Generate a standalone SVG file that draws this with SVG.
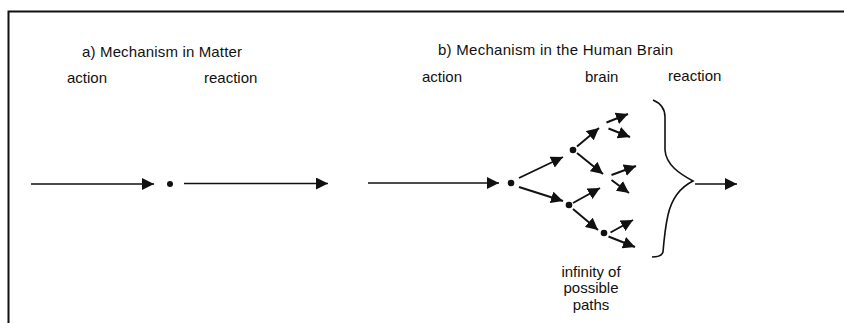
<svg xmlns="http://www.w3.org/2000/svg" width="844" height="323" viewBox="0 0 844 323">
<style>
text{font-family:"Liberation Sans",Arial,sans-serif;font-size:15px;fill:#111}
.ln{stroke:#111;stroke-width:1.6;fill:none}
.br{stroke:#111;stroke-width:1.9;fill:none}
.dot{fill:#111}
</style>
<defs>
<marker id="ah" markerUnits="userSpaceOnUse" markerWidth="13" markerHeight="12" refX="12" refY="6" orient="auto">
<path d="M0,0 L12,6 L0,12 Z" fill="#111"/>
</marker>
</defs>
<rect width="844" height="323" fill="#fff"/>
<path id="frame" d="M8.5,323 V11.5 H844" fill="none" stroke="#111" stroke-width="2"/>
<g id="labels">
<text x="82" y="57" textLength="160" lengthAdjust="spacing">a) Mechanism in Matter</text>
<text x="67" y="83">action</text>
<text x="204" y="83">reaction</text>
<text x="438" y="55" textLength="235" lengthAdjust="spacing">b) Mechanism in the Human Brain</text>
<text x="422" y="82">action</text>
<text x="585" y="82">brain</text>
<text x="668" y="81">reaction</text>
<text x="591" y="277" text-anchor="middle">infinity of</text>
<text x="591" y="293" text-anchor="middle">possible</text>
<text x="591" y="310" text-anchor="middle">paths</text>
</g>
<g id="node-matter"><circle class="dot" cx="170" cy="184" r="3"/></g>
<g id="node-brain-root"><circle class="dot" cx="511" cy="183" r="3.3"/></g>
<g id="node-brain-upper"><circle class="dot" cx="573" cy="150" r="3.3"/></g>
<g id="node-brain-lower"><circle class="dot" cx="569" cy="205" r="3.3"/></g>
<g id="node-brain-lowest"><circle class="dot" cx="604" cy="233" r="3.3"/></g>
<g id="brace"><path class="ln" d="M653,100 C660,103 665,108 665,117 L665,150 C666,165 680,174 693,181 C681,187 672,197 668,215 C665,228 664,240 663,252 C662,256 658,257 652,257"/></g>
<g id="connectors">
<path class="ln" d="M31,184 H154" marker-end="url(#ah)"/>
<path class="ln" d="M184,183.5 H328" marker-end="url(#ah)"/>
<path class="ln" d="M368,183 H499" marker-end="url(#ah)"/>
<path class="ln" d="M695,184 H737" marker-end="url(#ah)"/>
<path class="br" d="M519,178 L563,157" marker-end="url(#ah)"/>
<path class="br" d="M519,187 L563,201" marker-end="url(#ah)"/>
<path class="br" d="M577,146.5 L599,128" marker-end="url(#ah)"/>
<path class="br" d="M577,153 L603,174" marker-end="url(#ah)"/>
<path class="br" d="M573,203 L600,188" marker-end="url(#ah)"/>
<path class="br" d="M573,209 L598,230" marker-end="url(#ah)"/>
<path class="br" d="M610.5,232.5 L633,220" marker-end="url(#ah)"/>
<path class="br" d="M608.5,236.5 L635,247" marker-end="url(#ah)"/>
<path class="br" d="M606.5,122.5 L628,114" marker-end="url(#ah)"/>
<path class="br" d="M608.5,128.5 L630,137" marker-end="url(#ah)"/>
<path class="br" d="M611.5,175 L636,166" marker-end="url(#ah)"/>
<path class="br" d="M611.5,180 L629,193" marker-end="url(#ah)"/>
</g>
</svg>
